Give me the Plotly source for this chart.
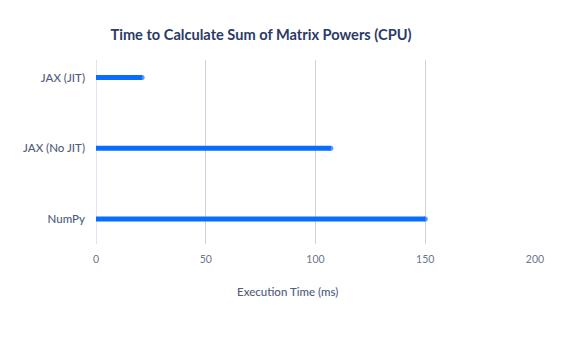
import plotly.graph_objects as go

categories = ["JAX (JIT)", "JAX (No JIT)", "NumPy"]
times_ms = [21, 107, 150]
x_ticks = [0, 50, 100, 150, 200]

title_text = "Time to Calculate Sum of Matrix Powers (CPU)"
x_title = "Execution Time (ms)"

bar_color = "#0a6bff"
grid_color = "#cdd3e2"
text_dark = "#2b3a67"
text_mid = "#4f5d7e"

fig = go.Figure()
for cat, val in zip(categories, times_ms):
    fig.add_trace(go.Scatter(
        x=[0, val], y=[cat, cat], mode="lines+markers",
        line=dict(color=bar_color, width=5),
        marker=dict(color=bar_color, size=[0, 5], line=dict(width=0)),
        showlegend=False, hoverinfo="skip",
    ))

fig.update_layout(
    width=576, height=337,
    margin=dict(l=96, r=40.5, t=60, b=93),
    paper_bgcolor="white", plot_bgcolor="white",
    font=dict(family="Lato, 'Open Sans', sans-serif", color=text_mid, size=11),
    title=dict(text=title_text, xref="container", x=261 / 576, xanchor="center",
               yref="container", y=1 - 34.5 / 337, yanchor="middle",
               font=dict(size=14.6, color=text_dark, family="Lato, sans-serif", weight=700)),
    xaxis=dict(range=[0, 200], tickvals=x_ticks, showgrid=True, gridcolor=grid_color,
               gridwidth=1, zeroline=False, showline=False, ticks="",
               tickfont=dict(size=10.5, color="#6b7591"), ticklabelstandoff=7),
    yaxis=dict(type="category", categoryorder="array", categoryarray=categories,
               range=[2.355, -0.2475], showgrid=False, zeroline=False,
               showline=False, ticks="", ticklabelstandoff=10,
               tickfont=dict(size=11.5, color=text_mid, weight=500)),
    shapes=[dict(type="line", xref="x", yref="paper", x0=0, x1=0, y0=0, y1=1,
                 line=dict(color="#bccbe6", width=1), layer="below")],
    annotations=[dict(text=x_title, xref="paper", yref="paper", x=(288 - 96) / 439.5,
                      y=-47 / 184, xanchor="center", yanchor="middle", showarrow=False,
                      font=dict(size=11.5, color=text_mid, weight=500))],
)

fig.write_html("out.html")
